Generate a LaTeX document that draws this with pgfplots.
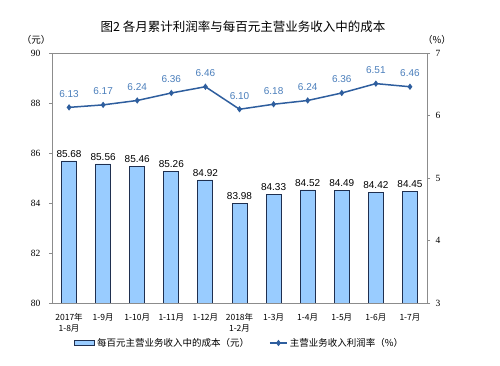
\documentclass[border=0pt]{standalone}
\usepackage{fontspec}
\setmainfont{Liberation Serif}
\newfontfamily\cjk{Noto Sans CJK SC}
\newfontfamily\arial{Liberation Sans}
\usepackage{pgfplots}
\pgfplotsset{compat=1.18}
\definecolor{barfill}{HTML}{99CCFF}
\definecolor{baredge}{HTML}{1F2F4F}
\definecolor{linec}{HTML}{2E5E9E}
\definecolor{labc}{HTML}{4A7EBB}
\definecolor{framec}{HTML}{8C8C8C}
\begin{document}
\begin{tikzpicture}[x=1pt,y=1pt]
\useasboundingbox (0,0) rectangle (500,366);
\begin{axis}[
  at={(52pt,63pt)}, anchor=south west,
  scale only axis, width=375pt, height=250pt,
  xmin=-0.5, xmax=10.5, ymin=80, ymax=90,
  ytick={80,82,...,90}, ytick pos=left,
  axis line style={framec},
  tick style={framec},
  tick align=outside, major tick length=3pt,
  /pgf/number format/assume math mode=true,
  yticklabel style={font=\fontsize{9.5}{11}\selectfont, xshift=-5pt},
  xtick={0,...,10}, xtick pos=bottom,
  xticklabels={{2017年\\1-8月},1-9月,1-10月,1-11月,1-12月,{2018年\\1-2月},1-3月,1-4月,1-5月,1-6月,1-7月},
  xticklabel style={font=\cjk\fontsize{8.5}{11}\selectfont, align=center, yshift=-4pt},
  major x tick style={draw=none},
  extra x ticks={0.5,1.5,...,9.5}, extra x tick labels={},
  extra x tick style={tick align=inside, major tick length=2pt},
  ybar, bar width=15pt,
  nodes near coords,
  nodes near coords style={font=\arial\fontsize{10}{12}\selectfont, black, /pgf/number format/fixed, /pgf/number format/precision=2, /pgf/number format/fixed zerofill},
]
\addplot[fill=barfill, draw=baredge, line width=0.9pt] coordinates {
(0,85.68) (1,85.56) (2,85.46) (3,85.26) (4,84.92) (5,83.98) (6,84.33) (7,84.52) (8,84.49) (9,84.42) (10,84.45)};
\end{axis}
\begin{axis}[
  at={(52pt,63pt)}, anchor=south west,
  scale only axis, width=375pt, height=250pt,
  xmin=-0.5, xmax=10.5, ymin=3, ymax=7,
  ytick={3,...,7},
  axis x line=none, axis y line*=right,
  axis line style={framec},
  tick style={framec},
  tick align=outside, major tick length=3pt,
  /pgf/number format/assume math mode=true,
  yticklabel style={font=\fontsize{9.5}{11}\selectfont, xshift=2pt},
  legend columns=2,
  legend style={at={(0.5,-0.16)}, anchor=center, draw=none, font=\cjk\fontsize{9.5}{11}\selectfont, /tikz/every even column/.append style={column sep=18pt}},
]
\addlegendimage{legend image code/.code={\draw[fill=barfill, draw=baredge, line width=1.2pt] (0pt,-2.5pt) rectangle (20pt,2.5pt);}}
\addlegendentry{每百元主营业务收入中的成本（元）}
\addplot[color=linec, line width=1.5pt, mark=diamond*, mark size=2pt,
  nodes near coords,
  every node near coord/.append style={font=\arial\fontsize{10}{12}\selectfont, text=labc, yshift=6pt, /pgf/number format/fixed, /pgf/number format/precision=2, /pgf/number format/fixed zerofill}] coordinates {
(0,6.13) (1,6.17) (2,6.24) (3,6.36) (4,6.46) (5,6.10) (6,6.18) (7,6.24) (8,6.36) (9,6.51) (10,6.46)};
\addlegendentry{主营业务收入利润率（\%）}
\end{axis}
\node[font=\cjk\fontsize{12.5}{14}\selectfont] at (243,339) {图2 各月累计利润率与每百元主营业务收入中的成本};
\node[font=\cjk\fontsize{9.5}{11}\selectfont] at (36,326) {（元）};
\node[font=\cjk\fontsize{9.5}{11}\selectfont] at (437,326) {（\%）};
\end{tikzpicture}
\end{document}
